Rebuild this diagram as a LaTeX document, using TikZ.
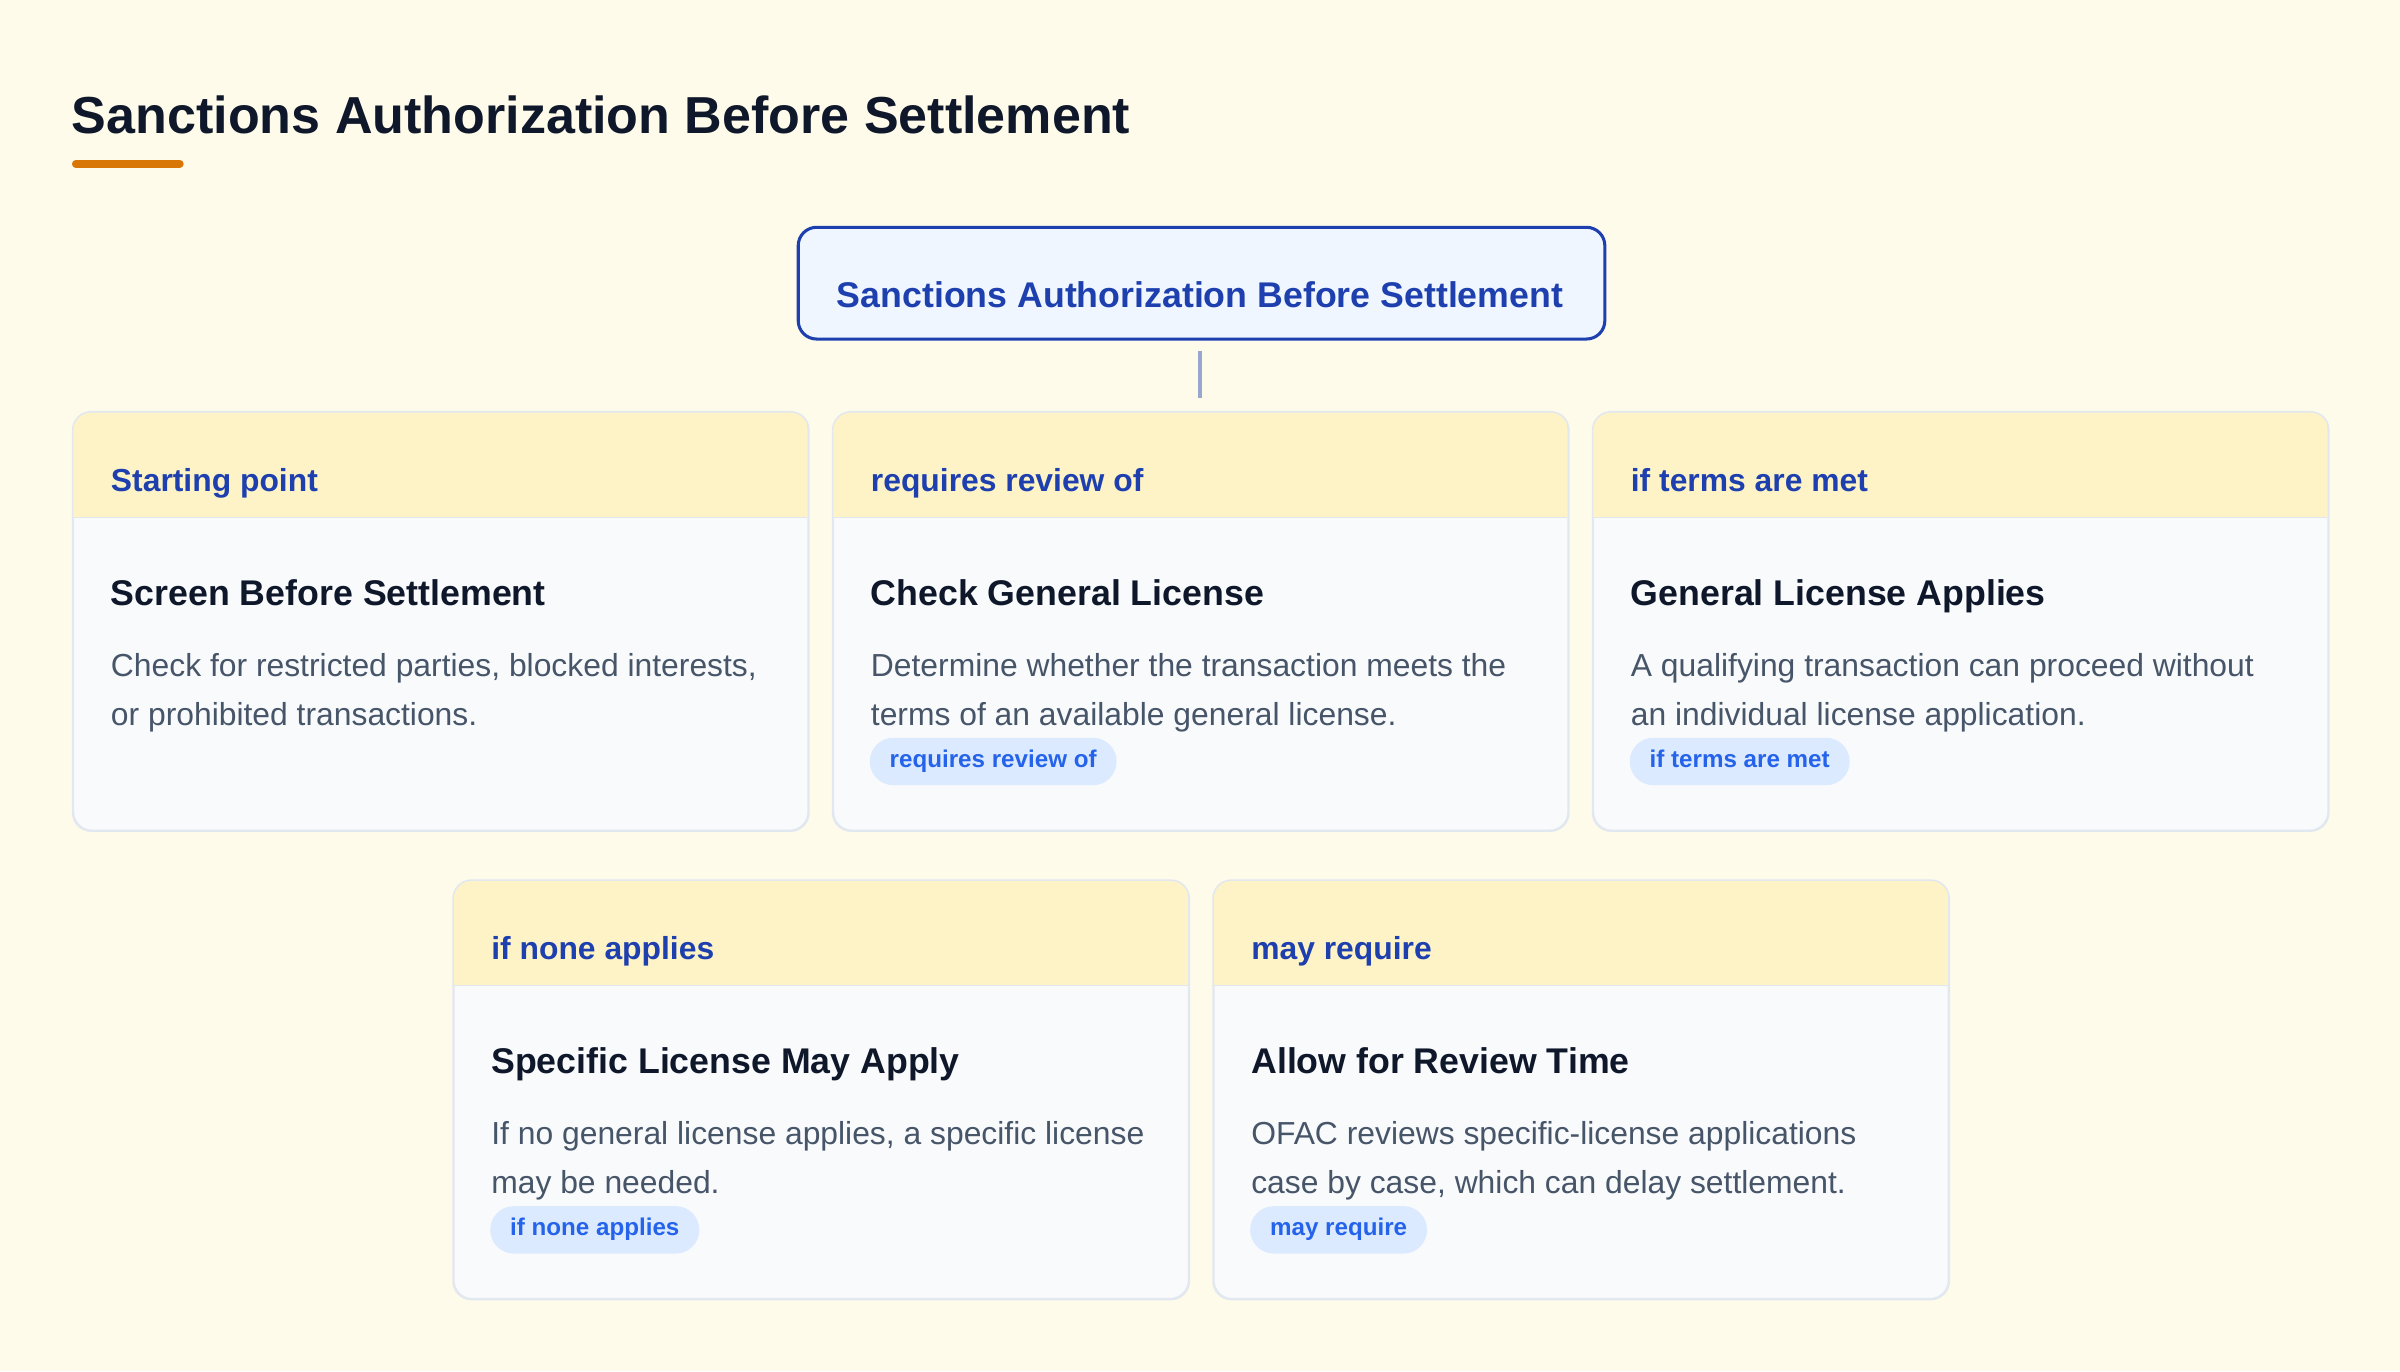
\documentclass[tikz,border=0pt]{standalone}
\usepackage{fontspec}
\setmainfont{Liberation Sans}
\definecolor{bgc}{HTML}{FEFBEA}
\definecolor{headc}{HTML}{FEF3C7}
\definecolor{bodyc}{HTML}{F8FAFC}
\definecolor{borderc}{HTML}{E2E8F0}
\definecolor{bluec}{HTML}{1E40AF}
\definecolor{rootfill}{HTML}{EFF6FF}
\definecolor{darkc}{HTML}{0F172A}
\definecolor{descc}{HTML}{475569}
\definecolor{pillc}{HTML}{DBEAFE}
\definecolor{pilltxt}{HTML}{2563EB}
\definecolor{orangec}{HTML}{D97706}
\definecolor{linkc}{HTML}{99A7CF}
\tikzset{
  txt/.style={inner sep=0pt, outer sep=0pt},
  maintitle/.style={txt, anchor=base west, text=darkc, font=\fontsize{25.5pt}{30pt}\selectfont\bfseries},
  roottxt/.style={txt, anchor=base, text=bluec, font=\fontsize{17.5pt}{21pt}\selectfont\bfseries},
  rootbox/.style={draw=bluec, line width=1.5pt, fill=rootfill, rounded corners=9pt, minimum width=395.25pt, minimum height=54.75pt, inner sep=0pt, anchor=north west},
  hdrtxt/.style={txt, anchor=base west, text=bluec, font=\fontsize{15.6pt}{18pt}\selectfont\bfseries},
  ttltxt/.style={txt, anchor=base west, text=darkc, font=\fontsize{17.5pt}{21pt}\selectfont\bfseries},
  desctxt/.style={txt, anchor=base west, text=descc, font=\fontsize{15.6pt}{18pt}\selectfont},
  pill/.style={anchor=west, fill=pillc, text=pilltxt, font=\fontsize{11.85pt}{14pt}\selectfont\bfseries, rounded corners=11.6pt, inner xsep=9.75pt, inner ysep=0pt, minimum height=23.25pt, text height=8.5pt, text depth=2.5pt},
  cardframe/.style={fill=bodyc, draw=borderc, line width=0.75pt, rounded corners=9pt, minimum width=360pt, minimum height=204.75pt, inner sep=0pt, anchor=north west},
  link/.style={draw=linkc, line width=1.5pt}
}
\newcommand\mkcard[8]{%
  \node[cardframe] (#1) at (#2,#3) {};
  \begin{scope}
    \clip[rounded corners=9pt] (#1.north west) rectangle (#1.south east);
    \fill[headc] (#2,#3) rectangle ({#2+480},{#3+69});
    \draw[borderc, line width=0.75pt] (#2,{#3+69}) -- ({#2+480},{#3+69});
  \end{scope}
  \draw[borderc, line width=0.75pt, rounded corners=9pt] (#1.north west) rectangle (#1.south east);
  \node[hdrtxt] (#1-h) at ({#2+25},{#3+52}) {#4};
  \node[ttltxt] (#1-t) at ({#2+25},{#3+126.5}) {#5};
  \node[desctxt] (#1-d1) at ({#2+25},{#3+173}) {#6};
  \node[desctxt] (#1-d2) at ({#2+25},{#3+204.7}) {#7};
  \def\pilltext{#8}%
  \ifx\pilltext\empty\else
    \node[pill] (#1-p) at ({#2+24},{#3+228.5}) {#8};
  \fi
}
\begin{document}
\begin{tikzpicture}[x=0.75pt,y=-0.75pt]
  \fill[bgc] (0,0) rectangle (1568,896);
  \useasboundingbox (0,0) rectangle (1568,896);
  % page title
  \node[maintitle] (title) at (47,87) {Sanctions Authorization Before Settlement};
  \draw[orangec, line width=3.75pt, line cap=round] (49.5,107) -- (117.5,107);
  % root
  \node[rootbox] (root) at (520.5,147.5) {};
  \node[roottxt] (roottext) at (784,201) {Sanctions Authorization Before Settlement};
  \coordinate (ltop) at (784,229);
  \coordinate (lbot) at (784,260);
  \draw[link] (ltop) -- (lbot);
  % cards
  \mkcard{c1}{47.5}{269}{Starting point}{Screen Before Settlement}{Check for restricted parties, blocked interests,}{or prohibited transactions.}{}
  \mkcard{c2}{544}{269}{requires review of}{Check General License}{Determine whether the transaction meets the}{terms of an available general license.}{requires review of}
  \mkcard{c3}{1040.5}{269}{if terms are met}{General License Applies}{A qualifying transaction can proceed without}{an individual license application.}{if terms are met}
  \mkcard{c4}{296}{575}{if none applies}{Specific License May Apply}{If no general license applies, a specific license}{may be needed.}{if none applies}
  \mkcard{c5}{792.5}{575}{may require}{Allow for Review Time}{OFAC reviews specific-license applications}{case by case, which can delay settlement.}{may require}
\end{tikzpicture}
\end{document}
